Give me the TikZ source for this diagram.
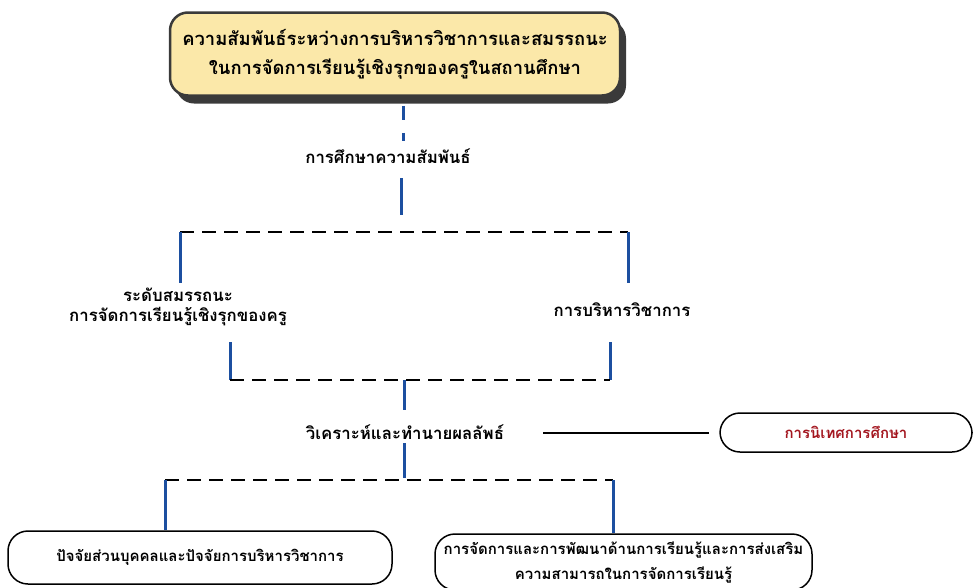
\documentclass[tikz,border=0pt]{standalone}
\usepackage{fontspec}
\newfontfamily\thaifont[Script=Thai]{Loma}
\usetikzlibrary{positioning,shadows}

\definecolor{linkblue}{HTML}{1C4FA0}
\definecolor{titlefill}{HTML}{FBE8A9}
\definecolor{shadowgray}{HTML}{3A3A3A}
\definecolor{supred}{HTML}{A3161F}

\tikzset{
  bluelink/.style={draw=linkblue, line width=3pt},
  splitline/.style={draw=black, line width=2pt, dash pattern=on 14pt off 8pt},
  steplabel/.style={font=\thaifont\bfseries\fontsize{16.8}{20}\selectfont, align=center, inner sep=4pt},
  titlebox/.style={draw=shadowgray, line width=2.5pt, fill=titlefill, rounded corners=18pt,
    minimum width=450pt, minimum height=83pt, align=center,
    font=\thaifont\bfseries\fontsize{18.4}{29}\selectfont,
    drop shadow={shadow xshift=6pt, shadow yshift=-8pt, fill=shadowgray, opacity=1}},
  pillbox/.style={draw=black, line width=1.5pt, rounded corners=20pt, align=center,
    font=\thaifont\bfseries\fontsize{15}{25}\selectfont}
}

\begin{document}
\begin{tikzpicture}[x=1pt,y=-1pt]
\useasboundingbox (0,0) rectangle (973,587);

% Draw the nodes
\node[titlebox] (title) at (395,54) {ความสัมพันธ์ระหว่างการบริหารวิชาการและสมรรถนะ\\ในการจัดการเรียนรู้เชิงรุกของครูในสถานศึกษา};
\node[steplabel] (study) at (388,156) {การศึกษาความสัมพันธ์};
\node[steplabel] (compet) at (178,307) {ระดับสมรรถนะ\\การจัดการเรียนรู้เชิงรุกของครู};
\node[steplabel] (acad) at (622,310) {การบริหารวิชาการ};
\node[steplabel] (analyse) at (405,432) {วิเคราะห์และทำนายผลลัพธ์};
\node[pillbox, minimum width=252pt, minimum height=39pt, text=supred] (super) at (846,432.5) {การนิเทศการศึกษา};
\node[pillbox, minimum width=384pt, minimum height=53pt] (factor) at (200,557.5) {ปัจจัยส่วนบุคคลและปัจจัยการบริหารวิชาการ};
\node[pillbox, minimum width=377pt, minimum height=56pt, yshift=0pt] (develop) at (623.5,562) {การจัดการและการพัฒนาด้านการเรียนรู้และการส่งเสริม\\ความสามารถในการจัดการเรียนรู้};

% Split points and stub ends
\coordinate (studytop) at (403,141);
\coordinate (studyfoot) at (401,178);
\coordinate (topsplit) at (401,215);
\coordinate (topL) at (180,232);
\coordinate (topR) at (628,232);
\coordinate (compettop) at (180,283);
\coordinate (acadtop) at (628,283);
\coordinate (competfoot) at (230,342);
\coordinate (acadfoot) at (610,342);
\coordinate (midL) at (230,380);
\coordinate (midR) at (610,380);
\coordinate (midsplit) at (404,380);
\coordinate (analysetop) at (404,410);
\coordinate (analysefoot) at (404,443);
\coordinate (botsplit) at (404,478);
\coordinate (botL) at (165,480);
\coordinate (botR) at (613,480);

% Draw the edges
\draw[bluelink, dash pattern=on 14pt off 13pt, shorten <=9pt] (title.south -| studytop) -- (studytop);
\draw[bluelink] (studyfoot) -- (topsplit);
\draw[splitline] (topL) -- (topR);
\draw[bluelink] (topL) -- (compettop);
\draw[bluelink] (topR) -- (acadtop);
\draw[bluelink] (competfoot) -- (midL);
\draw[bluelink] (acadfoot) -- (midR);
\draw[splitline] (midL) -- (midR);
\draw[bluelink] (midsplit) -- (analysetop);
\draw[line width=2pt, shorten >=10pt] (543,432.5) -- (super.west);
\draw[bluelink] (analysefoot) -- (botsplit);
\draw[splitline] (botL) -- (botR);
\draw[bluelink] (botL) -- (botL |- factor.north);
\draw[bluelink] (botR) -- (botR |- develop.north);

\end{tikzpicture}
\end{document}
